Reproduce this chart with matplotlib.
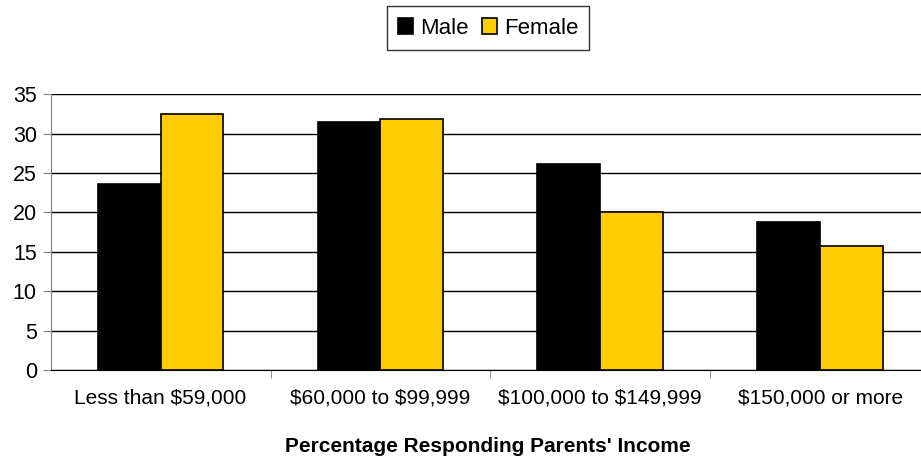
import numpy as np
import matplotlib
matplotlib.use("Agg")
import matplotlib.pyplot as plt

plt.rcParams['font.family'] = ['Liberation Sans', 'DejaVu Sans']
plt.rcParams['text.parse_math'] = False

categories = ["Less than $59,000", "$60,000 to $99,999", "$100,000 to $149,999", "$150,000 or more"]
male = [23.6, 31.5, 26.2, 18.8]
female = [32.5, 31.9, 20.0, 15.7]
yticks = [0, 5, 10, 15, 20, 25, 30, 35]

fig = plt.figure(figsize=(9.21, 4.58), dpi=100)
ax = fig.add_axes([50.7/921, 88/458, (921-50.7)/921, (370-94.3)/458])

x = np.arange(len(categories))
w = 0.286
ax.bar(x - w/2, male, w, color='black', edgecolor='black', linewidth=1.2, label='Male', zorder=3)
ax.bar(x + w/2, female, w, color='#FFCC00', edgecolor='black', linewidth=1.2, label='Female', zorder=3)

ax.set_ylim(0, 35)
ax.set_xlim(-0.5, 3.5 - 9/220)
ax.set_yticks(yticks)
ax.yaxis.grid(True, color='black', linewidth=1.0, zorder=0)
ax.set_axisbelow(True)

# category labels centred, tick marks on the boundaries
ax.set_xticks(x)
ax.set_xticklabels(categories, fontsize=15)
ax.tick_params(axis='x', length=0, pad=13)
ax.set_xticks([0.5, 1.5, 2.5], minor=True)
ax.tick_params(axis='x', which='minor', length=6, color='#808080', direction='out')
ax.tick_params(axis='y', labelsize=15.5, length=6, color='#808080', pad=4)

for s in ['top', 'right']:
    ax.spines[s].set_visible(False)
ax.spines['left'].set_color('#808080')
ax.spines['bottom'].set_color('black')

fig.text(488/921, 1 - 446/458, "Percentage Responding Parents' Income",
         ha='center', va='center', fontsize=15, fontweight='bold')

leg = fig.legend(loc='center', bbox_to_anchor=(488/921, 1 - 28/458), ncol=2, frameon=True,
                 fancybox=False, edgecolor='black', fontsize=16, handlelength=0.7, handleheight=0.7,
                 handletextpad=0.3, columnspacing=0.6, borderpad=0.5)
leg.get_frame().set_linewidth(1.0)

fig.savefig("out.png", dpi=100)
